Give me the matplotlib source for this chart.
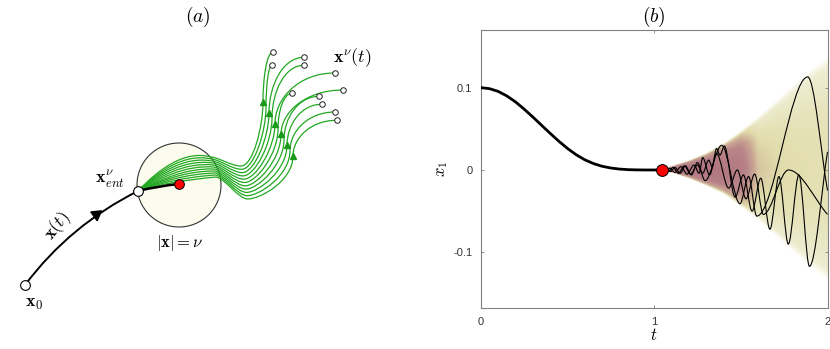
import numpy as np
import matplotlib
matplotlib.use('Agg')
import matplotlib.pyplot as plt
from matplotlib.path import Path
from matplotlib.patches import PathPatch, Circle
from matplotlib.colors import LinearSegmentedColormap

plt.rcParams['mathtext.fontset'] = 'cm'
plt.rcParams['font.family'] = ['Liberation Sans', 'DejaVu Sans']

# ---------------- panel (a): schematic, pixel coordinates ----------------
x0_pt = (25, 285)
xt_ctrl = (70, 225)
ent_pt = (138, 191)
red_pt = (179, 184)
ball_center = (179, 185)
ball_radius = 42

pinch_x = [211, 211.5, 212, 212.5, 213, 213.5, 214, 214.5, 215, 215.5, 216]
pinch_y = [157, 159, 161, 163, 165, 167, 169, 171, 173, 175, 177]
bulge_y1 = [168, 170, 172, 174, 176, 178, 180, 181, 182, 183, 184]
bulge_y2 = [150, 153, 156, 159, 162, 165, 168, 171, 174, 177, 180]
trough_x = [241, 241.7, 242.4, 243.1, 243.8, 244.5, 245.2, 245.9, 246.6, 247.3, 248]
trough_y = [166, 169.3, 172.6, 175.9, 179.2, 182.5, 185.8, 189.1, 192.4, 195.7, 199]
rise_x = [263, 266, 269, 272, 275, 278, 281, 284, 287, 290, 293]
rise_y = [102, 107.4, 112.8, 118.2, 123.6, 129, 134.4, 139.8, 145.2, 150.6, 156]
end_x = [272.7, 272, 304, 303.7, 334.7, 292, 343, 319.3, 321.7, 335, 336.7]
end_y = [52.3, 65, 57.3, 65.3, 73, 93.3, 90, 96.3, 104.3, 112, 120.3]
arrow_idx = [0, 2, 4, 6, 8, 10]

# ---------------- panel (b): data ----------------
t_main = [0, 0.05, 0.1, 0.15, 0.2, 0.25, 0.3, 0.35, 0.4, 0.45, 0.5, 0.55,
          0.6, 0.65, 0.7, 0.75, 0.8, 0.85, 0.9, 0.95, 1.0, 1.044]
x_main = [0.1, 0.0988, 0.0955, 0.0900, 0.0828, 0.0740, 0.0645, 0.0545,
          0.0446, 0.0350, 0.0262, 0.0186, 0.0124, 0.0078, 0.0045, 0.0024,
          0.0011, 0.0004, 0.0001, 0.0, 0.0, 0.0]

A_t = [1.044, 1.07, 1.095, 1.12, 1.15, 1.18, 1.215, 1.25, 1.294, 1.39, 1.495,
       1.545, 1.592, 1.886, 2.0]
A_x = [0, 0.002, -0.002, 0.003, -0.004, 0.005, -0.006, 0.009, -0.013, 0.030,
       -0.041, -0.008, -0.056, 0.113, -0.025]
B_t = [1.044, 1.08, 1.11, 1.14, 1.175, 1.21, 1.25, 1.28, 1.315, 1.335, 1.36,
       1.38, 1.405, 1.467, 1.515, 1.565, 1.615, 1.668, 1.72, 1.774, 1.835,
       1.896, 2.0]
B_x = [0, -0.002, 0.003, -0.004, 0.005, -0.005, 0.006, -0.004, 0.012, 0.004,
       0.026, 0.018, 0.029, -0.033, -0.006, -0.05, -0.01, -0.072, -0.008,
       -0.09, -0.006, -0.117, 0.022]
C_t = [1.044, 1.065, 1.09, 1.12, 1.155, 1.19, 1.23, 1.26, 1.28, 1.32, 1.36,
       1.43, 1.48, 1.53, 1.58, 1.63, 1.775, 2.0]
C_x = [0, -0.002, 0.002, -0.003, 0.004, -0.005, 0.006, -0.004, 0.015, -0.006,
       0.02, -0.022, 0.0, -0.035, -0.005, -0.054, 0.0, -0.054]

cone_t = [1.044, 1.1, 1.2, 1.3, 1.4, 1.5, 1.6, 1.7, 1.8, 1.9, 2.0]
cone_hi = [0.0, 0.004, 0.011, 0.02, 0.032, 0.047, 0.064, 0.083, 0.102, 0.121, 0.137]
cone_lo = [0.0, -0.004, -0.011, -0.02, -0.03, -0.045, -0.062, -0.081, -0.1, -0.119, -0.135]
cone_dens = [1.0, 1.0, 1.0, 1.0, 0.97, 0.88, 0.5, 0.44, 0.41, 0.39, 0.37]
prof_r = [-1.0, -0.9, -0.6, -0.3, 0.0, 0.3, 0.6, 0.9, 1.0]
prof_v = [0.0, 0.55, 0.82, 0.95, 1.0, 0.95, 0.82, 0.55, 0.0]

fig = plt.figure(figsize=(8.3, 3.49), dpi=100)

# ======== panel (a) ========
ax = fig.add_axes([0, 0, 0.5, 1])
ax.set_xlim(0, 415)
ax.set_ylim(349, 0)
ax.axis('off')

ax.add_patch(Circle(ball_center, ball_radius, facecolor='#fcfcee',
                    edgecolor='#333333', lw=0.8, zorder=1))

green = '#22a822'
for k in range(len(end_x)):
    M = (pinch_x[k], pinch_y[k])
    T = (trough_x[k], trough_y[k])
    V = (rise_x[k], rise_y[k])
    P = (end_x[k], end_y[k])
    verts = [ent_pt,
             (160, bulge_y1[k]), (185, bulge_y2[k]), M,
             (M[0] + 9, M[1] + 1), (T[0] - 10, T[1]), T,
             (T[0] + 12, T[1]), (V[0], V[1] + 25), V,
             (V[0], V[1] - 0.5 * (V[1] - P[1])), (P[0] - 0.6 * (P[0] - V[0]), P[1]), P]
    codes = [Path.MOVETO] + [Path.CURVE4] * 12
    ax.add_patch(PathPatch(Path(verts, codes), fill=False, edgecolor=green,
                           lw=0.9, zorder=2))
    ax.plot(P[0], P[1], 'o', ms=4, mfc='white', mec='#222222', mew=0.7, zorder=5)

for k in arrow_idx:
    ax.plot(rise_x[k], rise_y[k], marker='^', ms=5, color='#1a9a1a', zorder=3)

xt_path = Path([x0_pt, xt_ctrl, ent_pt], [Path.MOVETO, Path.CURVE3, Path.CURVE3])
ax.add_patch(PathPatch(xt_path, fill=False, edgecolor='black', lw=1.4, zorder=3))
ax.add_patch(PathPatch(Path([ent_pt, (158, 186), red_pt],
                            [Path.MOVETO, Path.CURVE3, Path.CURVE3]),
                       fill=False, edgecolor='black', lw=1.8, zorder=3))
ax.plot(96, 214, marker=(3, 0, -54), ms=9, color='black', zorder=4)

ax.plot(*x0_pt, 'o', ms=7, mfc='white', mec='black', mew=0.8, zorder=5)
ax.plot(*ent_pt, 'o', ms=7, mfc='white', mec='black', mew=0.8, zorder=5)
ax.plot(*red_pt, 'o', ms=7, mfc='#ff0000', mec='black', mew=0.7, zorder=5)

ax.text(198, 17, r'$(a)$', fontsize=14, ha='center', va='center')
ax.text(34, 304, r'$\mathbf{x}_0$', fontsize=13, ha='center', va='center')
ax.text(57, 226, r'$\mathbf{x}(t)$', fontsize=13, ha='center', va='center',
        rotation=52)
ax.text(110, 179, r'$\mathbf{x}^{\nu}_{ent}$', fontsize=13, ha='center',
        va='center')
ax.text(180, 243, r'$|\mathbf{x}|=\nu$', fontsize=12, ha='center', va='center')
ax.text(352, 58, r'$\mathbf{x}^{\nu}(t)$', fontsize=13, ha='center', va='center')

# ======== panel (b) ========
bx = fig.add_axes([480.7 / 830, 1 - 308.3 / 349, 346.8 / 830, 278.3 / 349])
bx.set_xlim(0, 2)
bx.set_ylim(-0.168, 0.17)

# fan-shaped density shading
tg = np.linspace(1.0, 2.0, 500)
xg = np.linspace(-0.17, 0.17, 400)
hi = np.interp(tg, cone_t, cone_hi, left=0, right=0)
lo = np.interp(tg, cone_t, cone_lo, left=0, right=0)
dens = np.interp(tg, cone_t, cone_dens, left=0, right=0)
mid = (hi + lo) / 2
half = np.maximum((hi - lo) / 2, 1e-6)
R = (xg[:, None] - mid[None, :]) / half[None, :]
img = np.interp(R, prof_r, prof_v, left=0, right=0) * dens[None, :]
img[:, tg < cone_t[0]] = 0
cmap = LinearSegmentedColormap.from_list(
    'fan', [(0, '#ffffff'), (0.1, '#f7f6e6'), (0.25, '#eceacb'),
            (0.42, '#e1ddac'), (0.6, '#c9a493'), (0.75, '#b9868a'),
            (1.0, '#b1767f')])
bx.imshow(img, extent=[1.0, 2.0, -0.17, 0.17], origin='lower', aspect='auto',
          cmap=cmap, vmin=0, vmax=1, interpolation='bilinear', zorder=0)


def osc_path(ts, xs):
    verts = [(ts[0], xs[0])]
    codes = [Path.MOVETO]
    n = len(ts)
    for i in range(1, n):
        dt = ts[i] - ts[i - 1]
        c1 = (ts[i - 1] + dt / 3, xs[i - 1])
        if i == n - 1:
            c2 = (ts[i] - dt / 3, xs[i] - (xs[i] - xs[i - 1]) / 3)
        else:
            c2 = (ts[i] - dt / 3, xs[i])
        verts += [c1, c2, (ts[i], xs[i])]
        codes += [Path.CURVE4] * 3
    return Path(verts, codes)


for ts, xs in [(A_t, A_x), (B_t, B_x), (C_t, C_x)]:
    bx.add_patch(PathPatch(osc_path(ts, xs), fill=False, edgecolor='black',
                           lw=0.8, zorder=2))

bx.plot(t_main, x_main, color='black', lw=2.0, zorder=3,
        solid_capstyle='round')
bx.plot(1.044, 0, 'o', ms=8.5, mfc='#ff0000', mec='black', mew=0.7, zorder=4)

bx.set_xticks([0, 1, 2])
bx.set_xticklabels(['0', '1', '2'])
bx.set_yticks([-0.1, 0, 0.1])
bx.set_yticklabels(['-0.1', '0', '0.1'])
bx.tick_params(direction='in', length=2.5, width=0.6, top=True, right=True,
               colors='#808080', labelcolor='#333333', labelsize=8, pad=6)
for s in bx.spines.values():
    s.set_color('#808080')
    s.set_linewidth(0.8)
bx.set_xlabel(r'$t$', fontsize=12, labelpad=0)
bx.set_ylabel(r'$x_1$', fontsize=12, labelpad=2)
fig.text(654 / 830, 1 - 17 / 349, r'$(b)$', fontsize=14, ha='center',
         va='center')

fig.savefig('out.png', dpi=100)
